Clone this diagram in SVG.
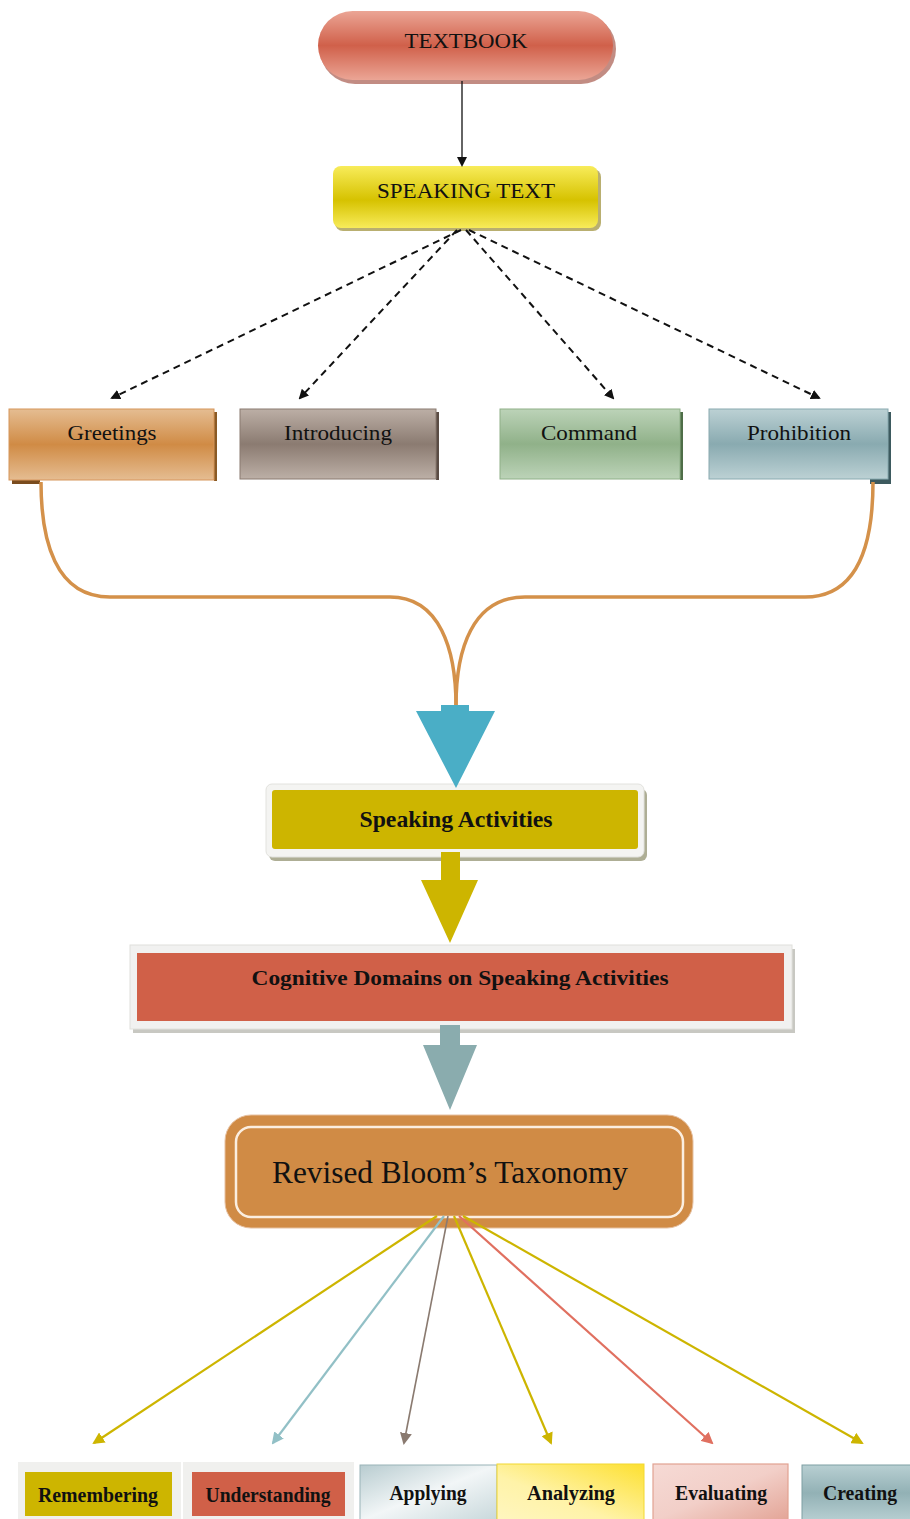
<svg xmlns="http://www.w3.org/2000/svg" width="910" height="1519" viewBox="0 0 910 1519">
<style>
text{font-family:"Liberation Serif","Times New Roman",serif;fill:#111;text-anchor:middle}
.b{font-weight:bold}
.dash{fill:none;stroke:#111;stroke-width:2;stroke-dasharray:7,5}
.brace{fill:none;stroke:#d4914a;stroke-width:3.5}
</style>
<defs>
<linearGradient id="gRed" x1="0" y1="0" x2="0" y2="1"><stop offset="0" stop-color="#eba595"/><stop offset="0.5" stop-color="#d0604a"/><stop offset="1" stop-color="#eba595"/></linearGradient>
<linearGradient id="gYel" x1="0" y1="0" x2="0" y2="1"><stop offset="0" stop-color="#f8ec5a"/><stop offset="0.55" stop-color="#d6c200"/><stop offset="1" stop-color="#f8ec5a"/></linearGradient>
<linearGradient id="gOr" x1="0" y1="0" x2="0" y2="1"><stop offset="0" stop-color="#e5bd92"/><stop offset="0.5" stop-color="#d08b45"/><stop offset="1" stop-color="#e5bd92"/></linearGradient>
<linearGradient id="gBr" x1="0" y1="0" x2="0" y2="1"><stop offset="0" stop-color="#bcafa6"/><stop offset="0.5" stop-color="#8b7b71"/><stop offset="1" stop-color="#bcafa6"/></linearGradient>
<linearGradient id="gGr" x1="0" y1="0" x2="0" y2="1"><stop offset="0" stop-color="#bcd3b8"/><stop offset="0.5" stop-color="#90b189"/><stop offset="1" stop-color="#bcd3b8"/></linearGradient>
<linearGradient id="gBl" x1="0" y1="0" x2="0" y2="1"><stop offset="0" stop-color="#bcd1d4"/><stop offset="0.5" stop-color="#89aab0"/><stop offset="1" stop-color="#bcd1d4"/></linearGradient>
<linearGradient id="gApp" x1="0" y1="0" x2="1" y2="1"><stop offset="0" stop-color="#b8ccd0"/><stop offset="0.5" stop-color="#f2f6f7"/><stop offset="1" stop-color="#c8d8db"/></linearGradient>
<linearGradient id="gAna" x1="1" y1="0" x2="0" y2="1"><stop offset="0" stop-color="#fde030"/><stop offset="0.6" stop-color="#fff3a8"/><stop offset="1" stop-color="#fff6c0"/></linearGradient>
<linearGradient id="gEva" x1="0" y1="0" x2="1" y2="1"><stop offset="0" stop-color="#f6dad5"/><stop offset="0.5" stop-color="#f2cfc8"/><stop offset="1" stop-color="#e3a496"/></linearGradient>
<linearGradient id="gCre" x1="0" y1="0" x2="0" y2="1"><stop offset="0" stop-color="#b8cfd2"/><stop offset="0.5" stop-color="#92b1b5"/><stop offset="1" stop-color="#b8cfd2"/></linearGradient>
<marker id="mk" markerWidth="10" markerHeight="10" refX="8" refY="5" orient="auto" markerUnits="userSpaceOnUse"><path d="M0,0 L10,5 L0,10 z" fill="#111"/></marker>
<marker id="mY" markerWidth="12" markerHeight="12" refX="10" refY="6" orient="auto" markerUnits="userSpaceOnUse"><path d="M0,0 L12,6 L0,12 z" fill="#cdb500"/></marker>
<marker id="mB" markerWidth="12" markerHeight="12" refX="10" refY="6" orient="auto" markerUnits="userSpaceOnUse"><path d="M0,0 L12,6 L0,12 z" fill="#92c0c6"/></marker>
<marker id="mBr" markerWidth="12" markerHeight="12" refX="10" refY="6" orient="auto" markerUnits="userSpaceOnUse"><path d="M0,0 L12,6 L0,12 z" fill="#8a7a70"/></marker>
<marker id="mR" markerWidth="12" markerHeight="12" refX="10" refY="6" orient="auto" markerUnits="userSpaceOnUse"><path d="M0,0 L12,6 L0,12 z" fill="#e07060"/></marker>
</defs>
<rect width="910" height="1519" fill="#fff"/>

<g id="textbook">
<rect x="320" y="14" width="296" height="70" rx="35" fill="#9a4030" opacity="0.6"/>
<rect x="318" y="11" width="295" height="69" rx="34.5" fill="url(#gRed)"/>
<text x="466" y="48" font-size="21" textLength="123" lengthAdjust="spacingAndGlyphs">TEXTBOOK</text>
</g>

<g id="speaking-text">
<rect x="335" y="169" width="266" height="62" rx="8" fill="#8a7a10" opacity="0.6"/>
<rect x="333" y="166" width="265" height="62" rx="8" fill="url(#gYel)"/>
<text x="466" y="198" font-size="21" textLength="178" lengthAdjust="spacingAndGlyphs">SPEAKING TEXT</text>
</g>

<g id="greetings">
<rect x="214" y="412" width="3" height="69" fill="#8a5a25"/>
<rect x="12" y="480" width="28" height="4" fill="#7a4c1e"/>
<rect x="9" y="409" width="205" height="71" fill="url(#gOr)" stroke="#d6955a" stroke-width="1"/>
<text x="112" y="440" font-size="21" textLength="89" lengthAdjust="spacingAndGlyphs">Greetings</text>
</g>
<g id="introducing">
<rect x="436" y="412" width="3" height="68" fill="#5a4c44"/>
<rect x="240" y="409" width="196" height="70" fill="url(#gBr)" stroke="#8a7a70" stroke-width="1"/>
<text x="338" y="440" font-size="21" textLength="108" lengthAdjust="spacingAndGlyphs">Introducing</text>
</g>
<g id="command">
<rect x="680" y="412" width="3" height="68" fill="#4f6e48"/>
<rect x="500" y="409" width="180" height="70" fill="url(#gGr)" stroke="#8fb088" stroke-width="1"/>
<text x="589" y="440" font-size="21" textLength="96" lengthAdjust="spacingAndGlyphs">Command</text>
</g>
<g id="prohibition">
<rect x="888" y="412" width="3" height="72" fill="#3d5a5f"/>
<rect x="870" y="479" width="21" height="5" fill="#3d5a5f"/>
<rect x="709" y="409" width="179" height="70" fill="url(#gBl)" stroke="#89aab0" stroke-width="1"/>
<text x="799" y="440" font-size="21" textLength="104" lengthAdjust="spacingAndGlyphs">Prohibition</text>
</g>

<g id="speaking-activities">
<rect x="269" y="789" width="378" height="72" rx="6" fill="#9a9a7a" opacity="0.8"/>
<rect x="266" y="784" width="378" height="73" rx="6" fill="#f4f4f2" stroke="#e2e2de"/>
<rect x="272" y="790" width="366" height="59" rx="3" fill="#cdb500"/>
<text class="b" x="456" y="827" font-size="24" textLength="193" lengthAdjust="spacingAndGlyphs">Speaking Activities</text>
</g>

<g id="cognitive">
<rect x="133" y="949" width="662" height="84" fill="#b0b0a8" opacity="0.7"/>
<rect x="130" y="945" width="662" height="84" fill="#f1f1f0" stroke="#e0e0dc"/>
<rect x="137" y="953" width="647" height="68" fill="#d06048"/>
<text class="b" x="460" y="985" font-size="22" textLength="417" lengthAdjust="spacingAndGlyphs">Cognitive Domains on Speaking Activities</text>
</g>

<g id="bloom">
<rect x="225" y="1115" width="468" height="113" rx="26" fill="#d08b45" stroke="#e6c0a0" stroke-width="1"/>
<rect x="236" y="1127" width="447" height="90" rx="15" fill="none" stroke="#fbeee0" stroke-width="2.5"/>
<text x="450" y="1183" font-size="32" textLength="356" lengthAdjust="spacingAndGlyphs">Revised Bloom’s Taxonomy</text>
</g>

<g id="remembering">
<rect x="18" y="1462" width="163" height="57" fill="#f0f0ee"/>
<rect x="25" y="1472" width="147" height="44" fill="#cdb500"/>
<text class="b" x="98" y="1502" font-size="20" textLength="120" lengthAdjust="spacingAndGlyphs">Remembering</text>
</g>
<g id="understanding">
<rect x="183" y="1462" width="171" height="57" fill="#f0f0ee"/>
<rect x="192" y="1472" width="153" height="44" fill="#d06048"/>
<text class="b" x="268" y="1502" font-size="20" textLength="125" lengthAdjust="spacingAndGlyphs">Understanding</text>
</g>
<g id="applying">
<rect x="360" y="1465" width="137" height="56" fill="url(#gApp)" stroke="#9ab3b8" stroke-width="1"/>
<text class="b" x="428" y="1500" font-size="20" textLength="77" lengthAdjust="spacingAndGlyphs">Applying</text>
</g>
<g id="analyzing">
<rect x="497" y="1464" width="147" height="57" fill="url(#gAna)" stroke="#f2d830" stroke-width="1"/>
<text class="b" x="571" y="1500" font-size="20" textLength="88" lengthAdjust="spacingAndGlyphs">Analyzing</text>
</g>
<g id="evaluating">
<rect x="653" y="1464" width="135" height="57" fill="url(#gEva)" stroke="#e2a292" stroke-width="1.2"/>
<text class="b" x="721" y="1500" font-size="20" textLength="92" lengthAdjust="spacingAndGlyphs">Evaluating</text>
</g>
<g id="creating">
<rect x="802" y="1465" width="110" height="56" fill="url(#gCre)" stroke="#7f9fa4" stroke-width="1"/>
<text class="b" x="860" y="1500" font-size="20" textLength="74" lengthAdjust="spacingAndGlyphs">Creating</text>
</g>

<g id="connectors">
<line x1="462" y1="81" x2="462" y2="165" stroke="#111" stroke-width="1.3" marker-end="url(#mk)"/>
<line class="dash" x1="461" y1="230" x2="112" y2="398" marker-end="url(#mk)"/>
<line class="dash" x1="457" y1="230" x2="300" y2="398" marker-end="url(#mk)"/>
<line class="dash" x1="466" y1="230" x2="613" y2="398" marker-end="url(#mk)"/>
<line class="dash" x1="469" y1="230" x2="819" y2="398" marker-end="url(#mk)"/>
<path class="brace" d="M41,482 C41,540 55,597 110,597 L390,597 C440,597 456,650 456,706"/>
<path class="brace" d="M873,482 C873,540 860,597 805,597 L525,597 C472,597 456,650 456,706"/>
<path d="M441,705 H469 V711 H495 L456,788 L416,711 H441 Z" fill="#4aaec6"/>
<path d="M441,852 H460 V880 H478 L450,943 L421,880 H441 Z" fill="#cdb500"/>
<path d="M440,1025 H460 V1045 H477 L450,1110 L423,1045 H440 Z" fill="#8aacae"/>
<g stroke-width="2.2" fill="none">
<line x1="437" y1="1216" x2="94" y2="1443" stroke="#cdb500" marker-end="url(#mY)"/>
<line x1="444" y1="1216" x2="273" y2="1443" stroke="#92c0c6" marker-end="url(#mB)"/>
<line x1="448" y1="1216" x2="404" y2="1443" stroke="#8a7a70" stroke-width="1.6" marker-end="url(#mBr)"/>
<line x1="454" y1="1216" x2="551" y2="1443" stroke="#cdb500" marker-end="url(#mY)"/>
<line x1="459" y1="1216" x2="712" y2="1443" stroke="#e07060" marker-end="url(#mR)"/>
<line x1="463" y1="1216" x2="862" y2="1443" stroke="#cdb500" marker-end="url(#mY)"/>
</g>
</g>
</svg>
